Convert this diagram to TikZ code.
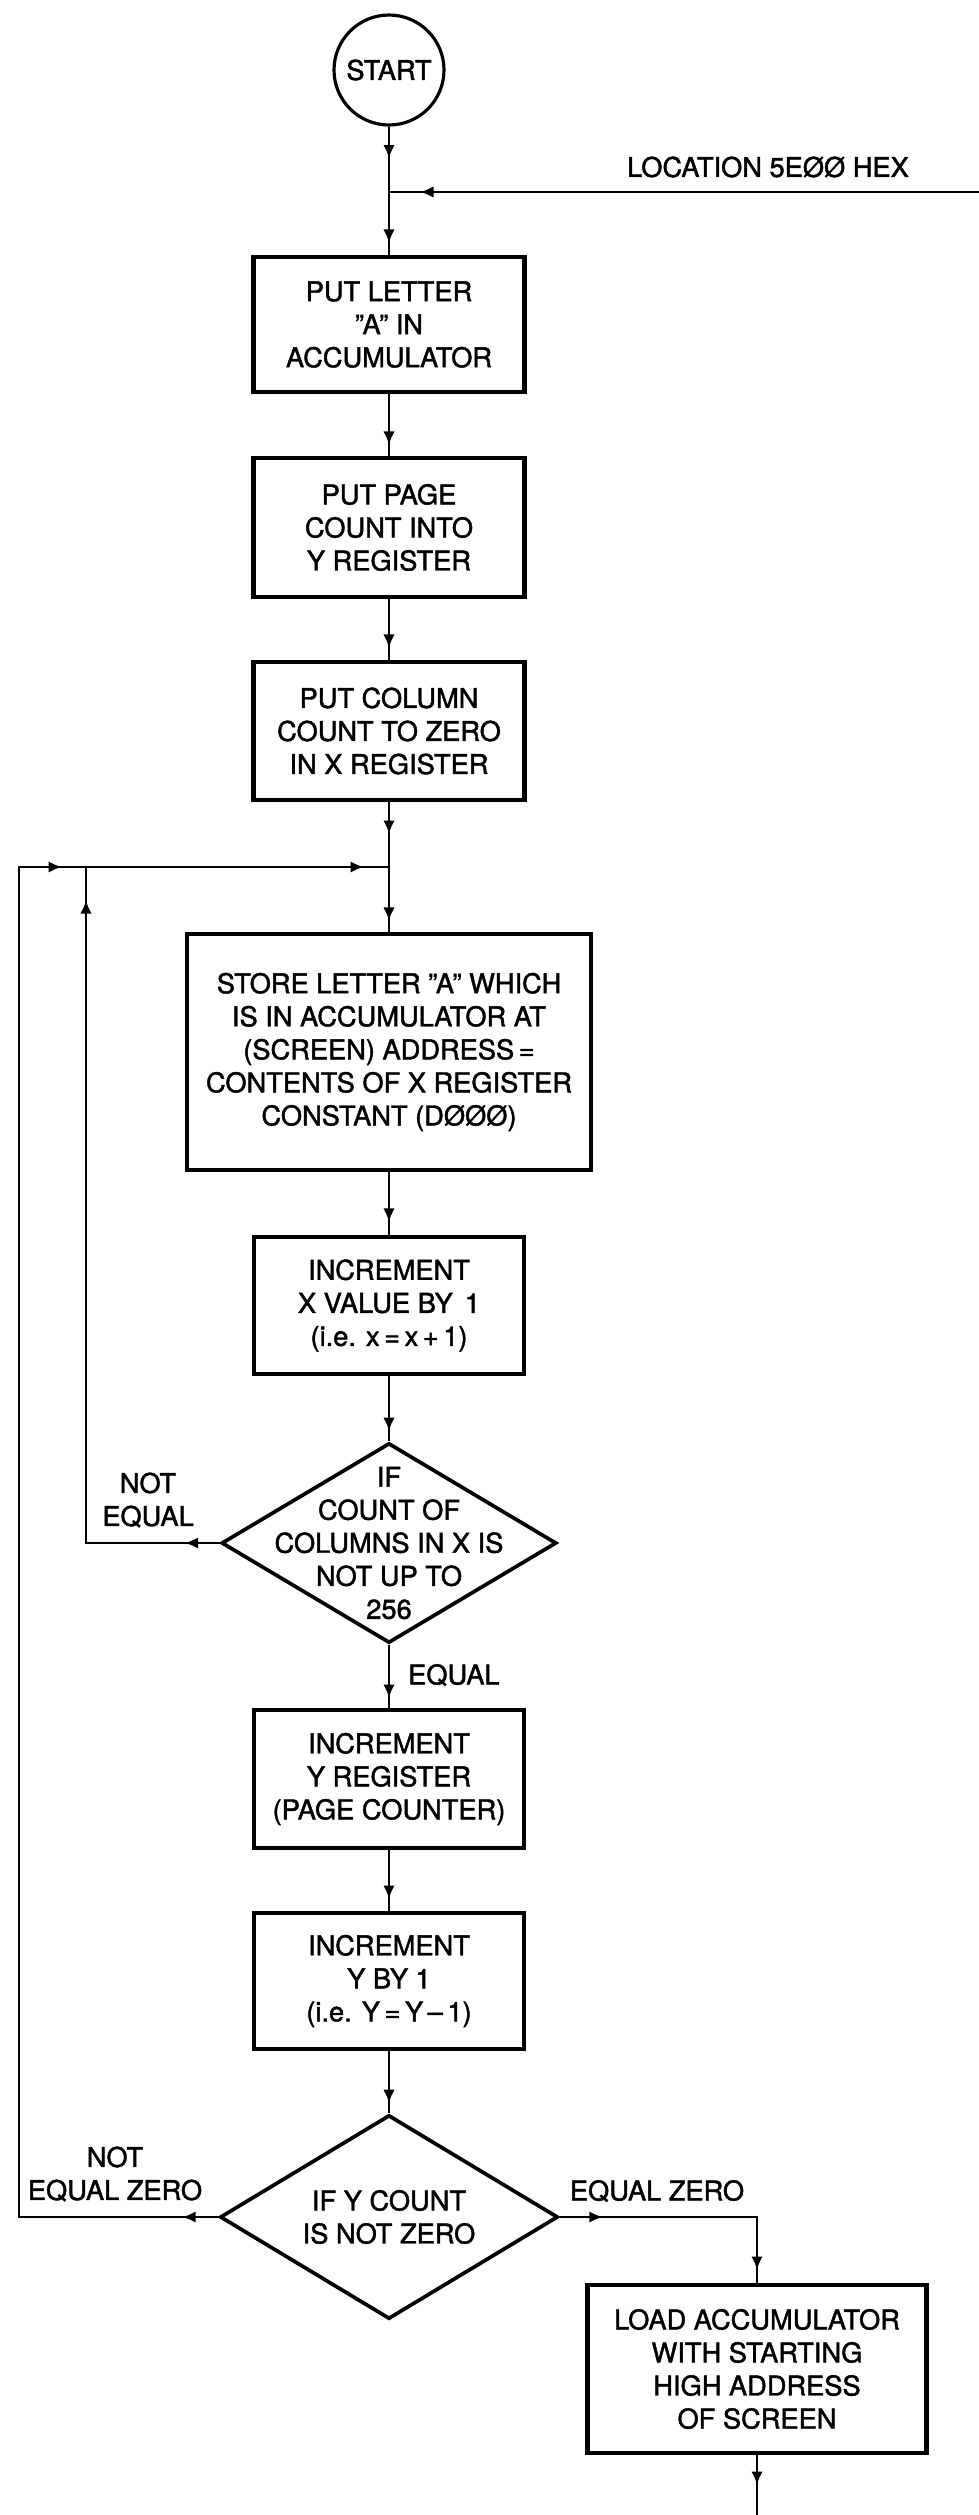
\documentclass[tikz,border=0pt]{standalone}
\usepackage{fontspec}
\setmainfont{TeX Gyre Heros}[FakeBold=1.6]
\usetikzlibrary{arrows.meta,shapes.geometric,decorations.markings}
\tikzset{stepbox/.style={draw, line width=2.3pt, align=center, inner sep=0pt, minimum width=5.42cm}, decide/.style={draw, diamond, line width=2.1pt, inner sep=0pt, minimum width=6.7cm, minimum height=4cm}, flow/.style={line width=1.6pt}, tipat/.style={postaction={decorate, decoration={markings, mark=at position #1 with {\arrow{>}}}}}, lbl/.style={align=center}}

\begin{document}
\begin{tikzpicture}[>={Latex[length=2.7mm,width=2.3mm]}, every node/.style={font=\fontsize{15.5}{18.8}\selectfont}]
\useasboundingbox (0,0) rectangle (19.58,-50.3);
\node[draw, circle, line width=1.8pt, minimum size=2.2cm, inner sep=0pt] (start) at (7.78,-1.4) {START};
\coordinate (j1) at (7.78,-3.84); \coordinate (locin) at (19.58,-3.84);
\node[lbl] (loc) at (15.36,-3.34) {LOCATION 5EØØ HEX};
\node[stepbox, minimum height=2.7cm] (put1) at (7.78,-6.49) {PUT LETTER\\"A" IN\\ACCUMULATOR};
\node[stepbox, minimum height=2.78cm] (put2) at (7.78,-10.55) {PUT PAGE\\COUNT INTO\\Y REGISTER};
\node[stepbox, minimum height=2.76cm] (put3) at (7.78,-14.62) {PUT COLUMN\\COUNT TO ZERO\\IN X REGISTER};
\coordinate (j2) at (7.78,-17.34); \coordinate (lp) at (1.72,-17.34); \coordinate (olt) at (0.38,-17.34);
\node[stepbox, minimum width=8.08cm, minimum height=4.72cm] (store) at (7.78,-21.04) {STORE LETTER "A" WHICH\\IS IN ACCUMULATOR AT\\(SCREEN) ADDRESS\,=\\CONTENTS OF X REGISTER\\CONSTANT (DØØØ)};
\node[stepbox, minimum width=5.4cm, minimum height=2.74cm] (incx) at (7.78,-26.11) {INCREMENT\\X VALUE BY\, 1\\(i.e. x\,=\,x\,+\,1)};
\node[decide] (d1) at (7.78,-30.86) {};
\node[lbl] (d1t) at (d1) {IF\\COUNT OF\\COLUMNS IN X IS\\NOT UP TO\\256};
\node[lbl] (ne1) at (2.96,-30.0) {NOT\\EQUAL};
\node[lbl, anchor=west] (eq1) at (8.04,-33.5) {EQUAL};
\node[stepbox, minimum width=5.4cm, minimum height=2.76cm] (incyr) at (7.78,-35.58) {INCREMENT\\Y REGISTER\\(PAGE COUNTER)};
\node[stepbox, minimum width=5.4cm, minimum height=2.72cm] (incy) at (7.78,-39.62) {INCREMENT\\Y BY 1\\(i.e. Y\,=\,Y\,--\,1)};
\node[decide, minimum width=6.76cm, minimum height=4.08cm] (d2) at (7.78,-44.34) {};
\node[lbl] (d2t) at (d2) {IF Y COUNT\\IS NOT ZERO};
\coordinate (ol) at (0.38,-44.34);
\node[lbl] (ne2) at (2.3,-43.48) {NOT\\EQUAL ZERO};
\node[lbl] (eq2) at (13.14,-43.82) {EQUAL ZERO};
\node[stepbox, minimum width=6.78cm, minimum height=3.36cm] (load) at (15.14,-47.38) {LOAD ACCUMULATOR\\WITH STARTING\\HIGH ADDRESS\\OF SCREEN};
\coordinate (out) at (15.14,-50.3);
\draw[flow, tipat=0.64cm] (start) -- (j1);
\draw[flow, tipat=-0.62cm] (locin) -- (j1);
\draw[flow, tipat=-0.24cm] (j1) -- (put1);
\draw[flow, tipat=-0.22cm] (put1) -- (put2);
\draw[flow, tipat=-0.24cm] (put2) -- (put3);
\draw[flow, tipat=0.64cm] (put3) -- (j2);
\draw[flow, tipat=-0.22cm] (j2) -- (store);
\draw[flow, tipat=-0.26cm] (store) -- (incx);
\draw[flow, tipat=-0.2cm] (incx) -- (d1);
\draw[flow, tipat=0.7cm, tipat=-0.66cm] (d1.west) -| (lp);
\draw[flow, tipat=-0.5cm] (lp) -- (j2);
\draw[flow, tipat=-0.2cm] (d1) -- (incyr);
\draw[flow, tipat=-0.24cm] (incyr) -- (incy);
\draw[flow, tipat=-0.2cm] (incy) -- (d2);
\draw[flow, tipat=0.72cm, tipat=-0.48cm] (d2.west) -- (ol) -- (olt) -- (lp);
\draw[flow, tipat=0.86cm, tipat=-0.26cm] (d2.east) -| (load);
\draw[flow, tipat=-0.6cm] (load) -- (out);
\end{tikzpicture}
\end{document}
